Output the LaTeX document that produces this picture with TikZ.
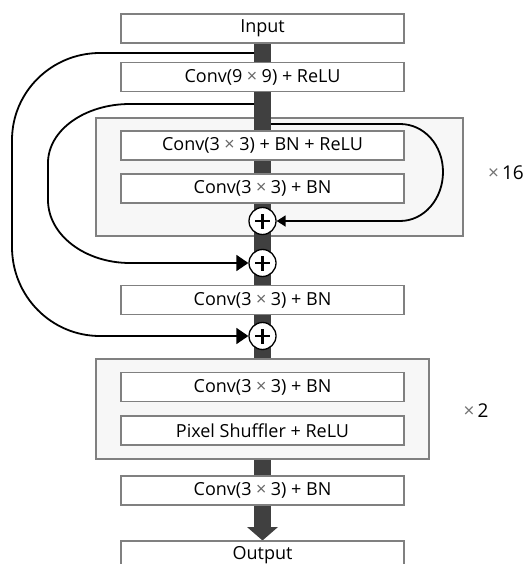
\documentclass[tikz,border=0pt]{standalone}
\usepackage{fontspec}
\setmainfont{Open Sans}
\usetikzlibrary{arrows.meta}
\pgfdeclarelayer{back}
\pgfdeclarelayer{mid}
\pgfsetlayers{back,mid,main}
\definecolor{bordergray}{HTML}{808080}
\definecolor{groupfill}{HTML}{F7F7F7}
\definecolor{bardark}{HTML}{404040}
\newcommand{\tms}{\kern4.5pt{\color{black!60}×}\kern4.5pt}
\begin{document}
\begin{tikzpicture}[x=1pt,y=-1pt,
  blk/.style={draw=bordergray, line width=1.1pt, fill=white, minimum width=283pt, minimum height=29pt, inner sep=0pt, font=\fontsize{18}{22}\selectfont},
  grp/.style={draw=bordergray, line width=1.1pt, fill=groupfill, inner sep=0pt},
  bar/.style={draw=bardark, line width=17pt},
  plusnode/.style={circle, draw=black, line width=1.3pt, fill=white, minimum size=27pt, inner sep=0pt,
    path picture={\draw[line width=2.6pt] ([xshift=-7.5pt]path picture bounding box.center) -- ([xshift=7.5pt]path picture bounding box.center);
                  \draw[line width=2.6pt] ([yshift=-7.5pt]path picture bounding box.center) -- ([yshift=7.5pt]path picture bounding box.center);}},
  skip/.style={line width=1.8pt, draw=black},
  rep/.style={font=\fontsize{19}{22}\selectfont, inner sep=0pt}
]
\useasboundingbox (0,0) rectangle (526,564);

% group boxes
\begin{pgfonlayer}{back}
\fill[white] (0,0) rectangle (526,564);
\node[grp, minimum width=367pt, minimum height=118pt] (g1) at (279.5,177) {};
\node[grp, minimum width=333pt, minimum height=100pt] (g2) at (262.5,409) {};
\end{pgfonlayer}

\node[blk] (in) at (262.5,28.5) {Input};
\node[blk] (c9) at (262.5,77) {Conv(9\tms 9) + ReLU};
\node[blk] (c1) at (262.5,145.5) {Conv(3\tms 3) + BN + ReLU};
\node[blk] (c2) at (262.5,188.5) {Conv(3\tms 3) + BN};
\node[plusnode] (p1) at (262.5,221) {};
\node[plusnode] (p2) at (262.5,263) {};
\node[blk] (c3) at (262.5,300) {Conv(3\tms 3) + BN};
\node[plusnode] (p3) at (262.5,336) {};
\node[blk] (c4) at (262.5,387) {Conv(3\tms 3) + BN};
\node[blk] (c5) at (262.5,430.5) {Pixel Shuffler + ReLU};
\node[blk] (c6) at (262.5,490.5) {Conv(3\tms 3) + BN};
\node[blk] (out) at (262.5,555.5) {Output};
\coordinate (tip) at (262.5,527);

\node[rep] (r16) at (506,173) {{\color{black!55}×}\kern3pt16};
\node[rep] (r2) at (476,411) {{\color{black!55}×}\kern3pt2};

% main data path
\begin{pgfonlayer}{mid}
\draw[bar] (in.south) -- (c9.north);
\draw[bar] (c9.south) -- (c1.north);
\draw[bar] (c1.south) -- (c2.north);
\draw[bar] (c2.south) -- (p1.center);
\draw[bar] (p1.center) -- (p2.center);
\draw[bar] (p2.center) -- (c3.north);
\draw[bar] (c3.south) -- (p3.center);
\draw[bar] (p3.center) -- (g2.north);
\draw[bar] (g2.south) -- (c6.north);
\draw[bar] (c6.south) -- (tip);
\fill[bardark] ([xshift=-15.5pt]tip) -- ([xshift=15.5pt]tip) -- (out.north) -- cycle;
\end{pgfonlayer}

% skip connections
\coordinate (s1) at (254,53);
\coordinate (s2) at (254,104);
\coordinate (s3) at (271,124);
\draw[skip, -{Triangle[length=12pt,width=16pt]}] (s1) -- (100,53) .. controls (51.4,53) and (12,92) .. (12,140) -- (12,247) .. controls (12,296) and (51,336) .. (100,336) -- (p3.west);
\draw[skip, -{Triangle[length=12pt,width=16pt]}] (s2) -- (130,104) .. controls (85,104) and (48,130) .. (48,163) -- (48,200) .. controls (48,235) and (85,263) .. (130,263) -- (p2.west);
\draw[skip, -{Triangle[length=9pt,width=11pt]}] (s3) -- (400,124) .. controls (424,124) and (443,145) .. (443,172) .. controls (443,199) and (424,221) .. (400,221) -- (p1.east);
\end{tikzpicture}
\end{document}
